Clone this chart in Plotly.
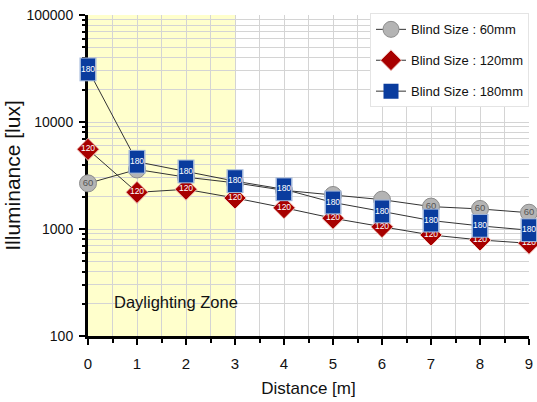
import plotly.graph_objects as go

# Illuminance measured at each distance from the window, per blind slat size
distance = [0, 1, 2, 3, 4, 5, 6, 7, 8, 9]
lux_60 = [2670, 3600, 3050, 2700, 2300, 2080, 1880, 1620, 1540, 1420]
lux_120 = [5550, 2200, 2350, 1950, 1580, 1260, 1050, 880, 790, 735]
lux_180 = [31000, 4250, 3450, 2800, 2350, 1770, 1460, 1200, 1070, 975]

series_names = ["Blind Size : 60mm", "Blind Size : 120mm", "Blind Size : 180mm"]
marker_tags = ["60", "120", "180"]
# the 60 mm tag is printed only where its circle is not hidden by a 180 mm box
show_tag_60 = [True, False, False, False, False, False, False, True, True, True]

zone_start, zone_end = 0, 3
zone_label = "Daylighting Zone"
zone_label_x = 1.8

y_tick_vals = [100, 1000, 10000, 100000]
y_tick_text = ["100", "1000", "10000", "100000"]
y_minor_vals = [m * d for d in (100, 1000, 10000) for m in range(2, 10)]
x_tick_vals = distance

FONT = "Liberation Sans Narrow, Arial Narrow, Liberation Sans, Arial, sans-serif"
GRID = "#d4d4d4"
TXT = "#111111"

fig = go.Figure()

# 60 mm: grey circles
fig.add_trace(go.Scatter(
    x=distance, y=lux_60, name=series_names[0], legendgroup="a",
    mode="lines+markers+text",
    text=[marker_tags[0] if s else "" for s in show_tag_60],
    textposition="middle center",
    textfont=dict(family=FONT, size=9.5, color="#555555"),
    line=dict(color="#333333", width=1),
    marker=dict(symbol="circle", size=17, color="#b4b4b4",
                line=dict(color="#8c8c8c", width=1)),
    cliponaxis=False,
))

# 120 mm: dark red diamonds
fig.add_trace(go.Scatter(
    x=distance, y=lux_120, name=series_names[1], legendgroup="b",
    mode="lines+markers+text", text=[marker_tags[1]] * len(distance),
    textposition="middle center",
    textfont=dict(family=FONT, size=8.5, color="white"),
    line=dict(color="#333333", width=1),
    marker=dict(symbol="diamond", size=17, color="#a80000",
                line=dict(color="#f3c9c0", width=1)),
    cliponaxis=False,
))

# 180 mm: blue rectangles (legend entry uses a plain square)
fig.add_trace(go.Scatter(
    x=distance, y=lux_180, name=series_names[2], legendgroup="c",
    mode="lines+markers",
    line=dict(color="#333333", width=1),
    marker=dict(symbol="square", size=15, color="#0a3c9e",
                line=dict(color="#0a3c9e", width=0)),
    cliponaxis=False,
))
# tall rectangle body: light outline then solid fill
fig.add_trace(go.Scatter(
    x=distance, y=lux_180, showlegend=False, hoverinfo="skip",
    mode="markers",
    marker=dict(symbol="line-ns", size=17, color="#9fb4d8",
                line=dict(color="#9fb4d8", width=17)),
    cliponaxis=False,
))
fig.add_trace(go.Scatter(
    x=distance, y=lux_180, showlegend=False, hoverinfo="skip",
    mode="markers+text", text=[marker_tags[2]] * len(distance),
    textposition="middle center",
    textfont=dict(family=FONT, size=8.5, color="white"),
    marker=dict(symbol="line-ns", size=15.5, color="#0a3c9e",
                line=dict(color="#0a3c9e", width=14)),
    cliponaxis=False,
))

# shaded daylighting zone
fig.add_shape(type="rect", xref="x", yref="paper",
              x0=zone_start, x1=zone_end, y0=0, y1=1,
              fillcolor="#ffffcc", line=dict(width=0), layer="below")
fig.add_annotation(x=zone_label_x, xref="x", y=0.072, yref="paper",
                   text=zone_label, showarrow=False,
                   font=dict(family=FONT, size=16.5, color=TXT))

fig.update_layout(
    width=537, height=402,
    margin=dict(l=88, r=8, t=15, b=66),
    paper_bgcolor="white", plot_bgcolor="white",
    font=dict(family=FONT, color=TXT),
    legend=dict(
        x=1.0, y=1.005, xanchor="right", yanchor="top",
        bgcolor="white", bordercolor="#e4e4e4", borderwidth=1,
        font=dict(family=FONT, size=13, color=TXT),
        traceorder="grouped", tracegroupgap=11,
    ),
    xaxis=dict(
        range=[0, 9], tickvals=x_tick_vals, automargin=False,
        layer="below traces",
        showgrid=True, gridcolor=GRID, gridwidth=1,
        minor=dict(dtick=0.5, showgrid=True, gridcolor=GRID,
                   ticks="outside", ticklen=4, tickwidth=2, tickcolor="black"),
        showline=True, linecolor="black", linewidth=3,
        ticks="outside", ticklen=6, tickwidth=2, tickcolor="black",
        ticklabelstandoff=6,
        tickfont=dict(family=FONT, size=15, color=TXT),
        title=dict(text="Distance [m]", font=dict(family=FONT, size=17, color=TXT), standoff=12),
        zeroline=False,
    ),
    yaxis=dict(
        type="log", range=[2, 5], automargin=False,
        layer="below traces",
        tickvals=y_tick_vals, ticktext=y_tick_text,
        showgrid=True, gridcolor=GRID, gridwidth=1,
        minor=dict(tickvals=y_minor_vals, showgrid=True, gridcolor=GRID,
                   ticks="outside", ticklen=3, tickwidth=2, tickcolor="black"),
        showline=True, linecolor="black", linewidth=3,
        ticks="outside", ticklen=6, tickwidth=2, tickcolor="black",
        ticklabelstandoff=3,
        tickfont=dict(family=FONT, size=14, color=TXT),
        title=dict(text="Illuminance [lux]", font=dict(family=FONT, size=21, color=TXT), standoff=1),
        zeroline=False,
    ),
)

fig.write_html("out.html")
